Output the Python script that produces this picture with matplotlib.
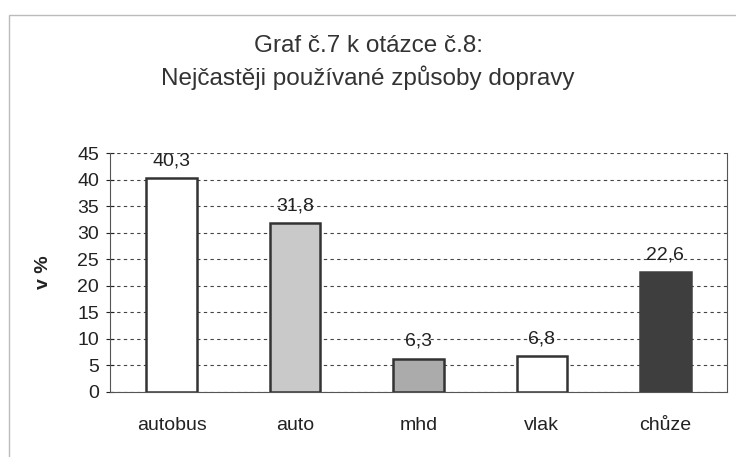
import matplotlib.pyplot as plt
from matplotlib.patches import Rectangle

plt.rcParams['font.family'] = ['Liberation Sans', 'DejaVu Sans']

# data
categories = ['autobus', 'auto', 'mhd', 'vlak', 'chůze']
values = [40.3, 31.8, 6.3, 6.8, 22.6]
bar_colors = ['#ffffff', '#c9c9c9', '#ababab', '#ffffff', '#3e3e3e']
edge_colors = ['#333333', '#333333', '#333333', '#333333', '#3e3e3e']
yticks = [0, 5, 10, 15, 20, 25, 30, 35, 40, 45]

fig = plt.figure(figsize=(7.36, 4.57), dpi=100)
ax = fig.add_axes([110 / 736, 1 - 392 / 457, 617 / 736, 239 / 457])

x = range(len(categories))
ax.bar(x, values, width=0.41, color=bar_colors, edgecolor=edge_colors, linewidth=1.8, zorder=3)

for i, v in enumerate(values):
    ax.text(i, v + 2.4, f'{v:.1f}'.replace('.', ','), ha='center', va='baseline',
            fontsize=14, color='#222222', zorder=4)

ax.set_xlim(-0.5, len(categories) - 0.5)
ax.set_ylim(0, 45)
ax.set_yticks(yticks)
ax.set_xticks(list(x))
ax.set_xticklabels(categories)
ax.tick_params(axis='x', length=0, pad=18, labelsize=14, colors='#222222')
ax.tick_params(axis='y', direction='inout', length=6, width=0.8, pad=5, labelsize=14, colors='#222222')
ax.yaxis.grid(True, linestyle=(0, (3, 3)), color='#444444', linewidth=0.8, zorder=0)

for s in ['left', 'right', 'bottom']:
    ax.spines[s].set_color('#555555')
    ax.spines[s].set_linewidth(0.8)
ax.spines['top'].set_visible(False)

ax.set_ylabel('v %', fontsize=14, fontweight='bold', labelpad=18, color='#222222')

fig.text(0.5, 1 - 46 / 457, 'Graf č.7 k otázce č.8:', ha='center', va='center',
         fontsize=17.5, color='#333333')
fig.text(0.5, 1 - 78 / 457, 'Nejčastěji používané způsoby dopravy', ha='center', va='center',
         fontsize=17.5, color='#333333')

# outer frame of the chart area
fig.patches.append(Rectangle((9 / 736, -0.02), 0.99, 1 - 15 / 457 + 0.02,
                             transform=fig.transFigure, fill=False,
                             edgecolor='#bbbbbb', linewidth=1.0))

fig.savefig('out.png', dpi=100)
